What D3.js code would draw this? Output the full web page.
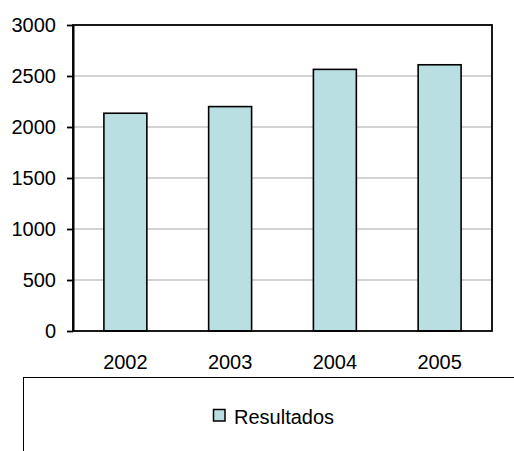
<!DOCTYPE html>
<html>
<head>
<meta charset="utf-8">
<script src="https://cdn.jsdelivr.net/npm/d3@7"></script>
<style>
  html, body { margin: 0; padding: 0; background: #fff; }
  svg { display: block; font-family: "Liberation Sans", Arial, sans-serif; }
  .tick text { font-size: 20px; fill: #000; }
  .legend-lbl { font-size: 20px; fill: #000; }
</style>
</head>
<body>
<svg id="chart"></svg>
<script>
// Data
const YEARS      = ["2002", "2003", "2004", "2005"];
const RESULTADOS = [2135, 2200, 2565, 2610];
const Y_TICKS    = [0, 500, 1000, 1500, 2000, 2500, 3000];
const SERIES     = "Resultados";

const VW = 514, VH = 451;
const M  = { top: 25, right: 22, bottom: 120, left: 73 };
const W  = VW - M.left - M.right;
const H  = VH - M.top - M.bottom;

const BAR_FILL = "#b9dfe3";

const svg = d3.select("#chart").attr("width", VW).attr("height", VH);
svg.append("rect").attr("width", VW).attr("height", VH).attr("fill", "#fff");

const g = svg.append("g").attr("transform", `translate(${M.left},${M.top})`);

const x = d3.scaleBand().domain(YEARS).range([0, W])
  .paddingInner(0.59).paddingOuter(0.295);
const y = d3.scaleLinear().domain([0, 3000]).range([H, 0]);

// Grid
g.append("g").selectAll("line")
  .data(Y_TICKS.filter(d => d > 0 && d < 3000))
  .join("line")
  .attr("x1", 0).attr("x2", W)
  .attr("y1", d => y(d)).attr("y2", d => y(d))
  .attr("stroke", "#c4c4c4").attr("stroke-width", 1.5);

// Bars
g.append("g").selectAll("rect")
  .data(YEARS.map((yr, i) => ({ yr, v: RESULTADOS[i] })))
  .join("rect")
  .attr("x", d => x(d.yr))
  .attr("y", d => y(d.v))
  .attr("width", x.bandwidth())
  .attr("height", d => y(0) - y(d.v))
  .attr("fill", BAR_FILL)
  .attr("stroke", "#000").attr("stroke-width", 1.6);

// Plot frame (top / right / bottom)
g.append("rect")
  .attr("x", 0).attr("y", 0).attr("width", W).attr("height", H)
  .attr("fill", "none").attr("stroke", "#000").attr("stroke-width", 1.8);

// Axes
const yAx = g.append("g")
  .call(d3.axisLeft(y).tickValues(Y_TICKS).tickFormat(d3.format("d"))
    .tickSize(6).tickSizeOuter(0).tickPadding(11));
yAx.selectAll("line").attr("stroke", "#000").attr("stroke-width", 1.8);
yAx.select(".domain").attr("stroke", "#000").attr("stroke-width", 2);

const xAx = g.append("g").attr("transform", `translate(0,${H})`)
  .call(d3.axisBottom(x).tickSize(0).tickPadding(24));
xAx.select(".domain").remove();

yAx.attr("font-family", null).attr("font-size", null);
xAx.attr("font-family", null).attr("font-size", null);

// Legend box (runs off the right and bottom edges)
const legG = svg.append("g");
legG.append("rect")
  .attr("x", 23.5).attr("y", 377.5).attr("width", 600).attr("height", 200)
  .attr("fill", "none").attr("stroke", "#000").attr("stroke-width", 1);
legG.append("rect")
  .attr("x", 213.5).attr("y", 409.5).attr("width", 11.5).attr("height", 11.5)
  .attr("fill", BAR_FILL).attr("stroke", "#000").attr("stroke-width", 1.5);
legG.append("text").attr("class", "legend-lbl")
  .attr("x", 234).attr("y", 423.5).text(SERIES);
</script>
</body>
</html>
